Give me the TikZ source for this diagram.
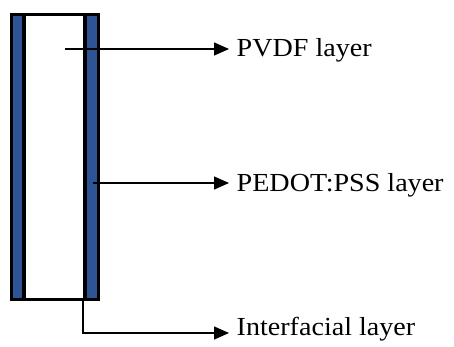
\documentclass[tikz,border=0pt]{standalone}
\usepackage{fontspec}
\setmainfont{Liberation Serif}
\newfontfamily\labelfont{Liberation Serif}
\usetikzlibrary{arrows.meta}
\definecolor{layerblue}{RGB}{46,84,150}
\begin{document}
\begin{tikzpicture}[x=1pt,y=-1pt,
  lbl/.style={anchor=base west,inner sep=0pt,xscale=1.08,font=\labelfont\fontsize{26}{30}\selectfont},
  pointer/.style={line width=1.4pt,-{Triangle[length=15pt,width=13pt]}},
  frame/.style={line width=3pt,draw=black}]
\useasboundingbox (0,0) rectangle (454,347);
% layers
\fill[layerblue] (11,14.5) rectangle (23,299);
\fill[layerblue] (86,14.5) rectangle (98,299);
\draw[line width=4pt] (24,14.5) -- (24,299);
\draw[line width=4pt] (85,14.5) -- (85,299);
\draw[frame] (11,14.5) rectangle (98.5,299);
% labels
\node[lbl] (pvdf) at (236.5,56.5) {PVDF layer};
\node[lbl] (pedot) at (236.5,191.5) {PEDOT:PSS layer};
\node[lbl] (inter) at (236.5,335) {Interfacial layer};
% start points
\coordinate (s1) at (65,49);
\coordinate (s2) at (93,183);
\coordinate (s3) at (83,299);
\coordinate (e3) at (83,333);
\draw[pointer] (s1) -- ([xshift=-7.5pt]s1 -| pvdf.west);
\draw[pointer] (s2) -- ([xshift=-7.5pt]s2 -| pedot.west);
\draw[pointer] (s3) -- (e3) -- ([xshift=-7.5pt]e3 -| inter.west);
\end{tikzpicture}
\end{document}
